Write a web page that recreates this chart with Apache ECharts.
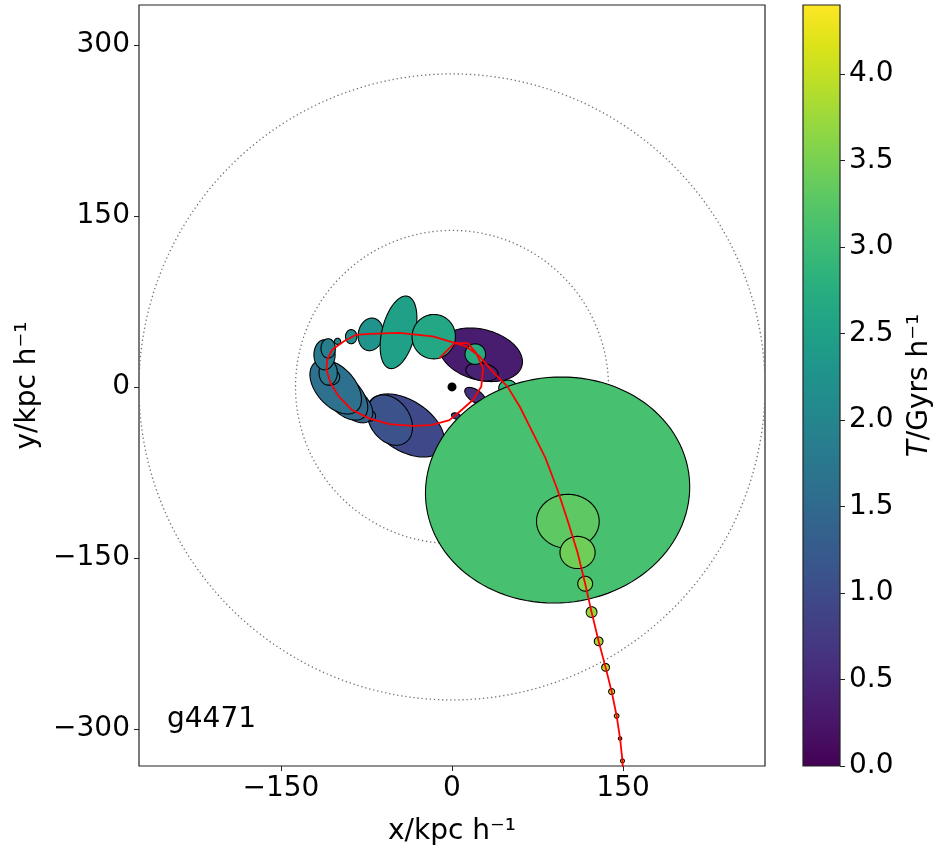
<!DOCTYPE html>
<html>
<head>
<meta charset="utf-8">
<script src="https://cdn.jsdelivr.net/npm/echarts@6/dist/echarts.min.js"></script>
<style>
html,body{margin:0;padding:0;background:#fff;}
#chart{width:945px;height:853px;}
</style>
</head>
<body>
<div id="chart"></div>
<script>
// ---- data ----
// ellipses: centre x, centre y, semi-axis a, semi-axis b, angle (deg), T
const ellX = [25.4, 26.3, 20.4, 3.7, -40.7, -54.5, -71.5, -86, -94, -102, -106.5, -108.6, -111.8, -108.6, -100.4, -88.4, -71.3, -46.9, -16, 20.4, 49, 92.6, 101.6, 110.1, 116.8, 122.4, 128.6, 134.7, 140, 144.4, 147.4, 149.5];
const ellY = [28.2, 13.2, -7.9, -25.6, -33.8, -29.1, -25.5, -15, -8, 0, 8.6, 12.6, 28.2, 33.8, 40, 44.1, 46.1, 47.9, 44.1, 28.8, -1, -90.4, -117.9, -145.2, -172.6, -197.5, -223.1, -246, -267.2, -288.6, -308.4, -328];
const ellA = [37.2, 14.3, 10.6, 4.3, 37.9, 24, 4.5, 20, 25, 28, 8, 11, 13.2, 8.5, 2.7, 6.2, 14.4, 32.6, 19.5, 9, 8, 116, 27.5, 15.4, 6.5, 4.7, 3.8, 3.4, 2.6, 2, 1.5, 1.7];
const ellB = [22.2, 7.7, 5.3, 2.6, 22, 17.5, 4.5, 12, 15, 17, 7, 8, 9.3, 6.3, 2.7, 5, 10.9, 14.5, 19, 9, 7, 99, 23.7, 14.1, 6.5, 4.7, 3.8, 3.4, 2.6, 2, 1.5, 1.7];
const ellAng = [-15, -10, -35, -20, -33, -55, 0, -45, -48, -48, 0, 90, 90, 90, 0, 90, 80, 76, 80, 0, 0, 5, 0, 0, 0, 0, 0, 0, 0, 0, 0, 0];
const ellT = [0.35, 0.42, 0.6, 0.8, 0.97, 1.1, 1.3, 1.4, 1.5, 1.62, 1.7, 1.75, 1.8, 1.88, 2.0, 2.15, 2.25, 2.5, 2.62, 2.72, 2.9, 3.1, 3.3, 3.42, 3.55, 3.7, 3.8, 3.9, 4.0, 4.1, 4.2, 4.3];

// trajectory
const trackX = [150.3, 149.5, 147.4, 144.4, 140, 134.7, 128.6, 122.4, 116.8, 110.1, 101.6, 92.6, 81.6, 68.3, 59.5, 48.5, 36, 24.3, 12.5, -2.2, -16.9, -46.3, -71.9, -84.5, -94.8, -105.1, -109.5, -110, -106.5, -99.2, -87.5, -72.8, -55.1, -34.6, -18.3, -2.2, 6.6, 18.3, 25.7, 27.2, 21.3, 13.9, 2.2, -11];
const trackY = [-345, -328, -308.4, -288.6, -267.2, -246, -223.1, -197.5, -172.6, -145.2, -117.9, -90.4, -61.5, -35, -17.4, 0.5, 13, 26.7, 35.5, 40, 44.4, 47.4, 46.5, 45.6, 40, 32.6, 23.8, 15, 3.3, -8.5, -20.3, -27.6, -32.6, -34.1, -33.5, -29.1, -21.8, -11.5, 0.3, 16.5, 29.7, 38.5, 38.5, 25.3];

// reference circles (radii)
const circleR = [274.5, 137.25];

// tick labels
const xTicks = [-150, 0, 150];
const yTicks = [-300, -150, 0, 150, 300];
const cbTicks = [0, 0.5, 1.0, 1.5, 2.0, 2.5, 3.0, 3.5, 4.0];
const tMin = 0, tMax = 4.4;
const label = 'g4471';

const viridis = ['#440154','#481467','#482576','#453781','#404688','#39568c','#33638d','#2d718e','#287d8e','#238a8d','#1f968b','#20a386','#29af7f','#3dbc74','#56c667','#75d054','#95d840','#bade28','#dde318','#fde725'];

// ---- build ----
const ellData = ellX.map((x, i) => [x, ellY[i], ellA[i], ellB[i], ellAng[i], ellT[i]]);
const trackData = trackX.map((x, i) => [x, trackY[i]]);
const FONT = 'DejaVu Sans';
const fmtMinus = v => (v < 0 ? '\u2212' + Math.abs(v) : String(v));

const chart = echarts.init(document.getElementById('chart'), null, {renderer: 'canvas'});

function ellipsePoints(cx, cy, a, b, th, n) {
  const pts = [];
  for (let i = 0; i < n; i++) {
    const t = 2 * Math.PI * i / n;
    const ex = a * Math.cos(t), ey = b * Math.sin(t);
    pts.push([cx + ex * Math.cos(th) - ey * Math.sin(th), cy - (ex * Math.sin(th) + ey * Math.cos(th))]);
  }
  return pts;
}

const option = {
  animation: false,
  backgroundColor: '#fff',
  grid: [
    {left: 139, top: 5, width: 626, height: 761, show: true, borderColor: '#222', borderWidth: 1.2,
     backgroundColor: 'transparent', containLabel: false, outerBoundsMode: 'none'},
    {left: 803, top: 5, width: 37, height: 761, show: false, containLabel: false, outerBoundsMode: 'none'}
  ],
  xAxis: [
    {type: 'value', gridIndex: 0, min: -274.5, max: 274.5, position: 'bottom',
     axisLine: {show: false, onZero: false}, splitLine: {show: false},
     axisTick: {show: true, length: 5, inside: false, customValues: xTicks, lineStyle: {color: '#222', width: 1}},
     axisLabel: {customValues: xTicks, formatter: fmtMinus, fontFamily: FONT, fontSize: 28, color: '#000', margin: 9},
     name: 'x/kpc h\u207B\u00B9', nameLocation: 'middle', nameGap: 52,
     nameTextStyle: {fontFamily: FONT, fontSize: 28, color: '#000'}},
    {type: 'value', gridIndex: 1, min: 0, max: 1, show: false, axisLine: {onZero: false}}
  ],
  yAxis: [
    {type: 'value', gridIndex: 0, min: -332.5, max: 335,
     axisLine: {show: false, onZero: false}, splitLine: {show: false},
     axisTick: {show: true, length: 5, inside: false, customValues: yTicks, lineStyle: {color: '#222', width: 1}},
     axisLabel: {customValues: yTicks, formatter: fmtMinus, fontFamily: FONT, fontSize: 28, color: '#000', margin: 9},
     name: 'y/kpc h\u207B\u00B9', nameLocation: 'middle', nameGap: 95, nameRotate: 90,
     nameTextStyle: {fontFamily: FONT, fontSize: 28, color: '#000'}},
    {type: 'value', gridIndex: 1, min: tMin, max: tMax, position: 'right',
     axisLine: {show: false, onZero: false}, splitLine: {show: false},
     axisTick: {show: true, length: 5, inside: false, customValues: cbTicks, lineStyle: {color: '#222', width: 1}},
     axisLabel: {customValues: cbTicks, formatter: v => v.toFixed(1), fontFamily: FONT, fontSize: 28, color: '#000', margin: 9},
     name: '{i|T}/Gyrs h\u207B\u00B9', nameLocation: 'middle', nameGap: 66, nameRotate: 90,
     nameTextStyle: {fontFamily: FONT, fontSize: 28, color: '#000', rich: {i: {fontFamily: FONT, fontSize: 28, fontStyle: 'italic', color: '#000'}}}}
  ],
  visualMap: {
    show: false, type: 'continuous', min: tMin, max: tMax, dimension: 5, seriesIndex: 1,
    inRange: {color: viridis}
  },
  graphic: [
    {type: 'text', left: 167, top: 706, style: {text: label, fontFamily: FONT, fontSize: 28, fill: '#000'}}
  ],
  series: [
    {
      type: 'custom', xAxisIndex: 0, yAxisIndex: 0, clip: true, z: 1, silent: true,
      data: circleR.map(r => [0, 0, r]),
      renderItem: (params, api) => {
        const c = api.coord([0, 0]);
        const k = api.size([1, 1])[0];
        return {type: 'circle', shape: {cx: c[0], cy: c[1], r: api.value(2) * k},
                style: {fill: 'none', stroke: '#707070', lineWidth: 1.3, lineDash: [1.3, 2.8]}};
      }
    },
    {
      type: 'custom', xAxisIndex: 0, yAxisIndex: 0, clip: true, z: 2, silent: true,
      data: ellData,
      encode: {x: 0, y: 1},
      renderItem: (params, api) => {
        const c = api.coord([api.value(0), api.value(1)]);
        const k = api.size([1, 1])[0];
        const pts = ellipsePoints(c[0], c[1], api.value(2) * k, api.value(3) * k, api.value(4) * Math.PI / 180, 120);
        return {type: 'polygon', shape: {points: pts},
                style: {fill: api.visual('color'), stroke: '#000', lineWidth: 1.1}};
      }
    },
    {
      type: 'line', xAxisIndex: 0, yAxisIndex: 0, data: trackData, showSymbol: false, symbol: 'none',
      lineStyle: {color: '#ff0000', width: 1.8}, z: 3, clip: true, silent: true
    },
    {
      type: 'scatter', xAxisIndex: 0, yAxisIndex: 0, data: [[0, 0]], symbolSize: 9,
      itemStyle: {color: '#000', opacity: 1}, z: 4, silent: true
    },
    {
      type: 'custom', xAxisIndex: 1, yAxisIndex: 1, z: 2, silent: true,
      data: [[0, tMax]],
      renderItem: (params, api) => {
        const p0 = api.coord([0, tMax]);
        const p1 = api.coord([1, tMin]);
        return {type: 'rect', shape: {x: p0[0], y: p0[1], width: p1[0] - p0[0], height: p1[1] - p0[1]},
                style: {
                  fill: new echarts.graphic.LinearGradient(0, 1, 0, 0,
                    viridis.map((col, i) => ({offset: i / (viridis.length - 1), color: col}))),
                  stroke: '#222', lineWidth: 1.2
                }};
      }
    }
  ]
};
chart.setOption(option);
</script>
</body>
</html>
